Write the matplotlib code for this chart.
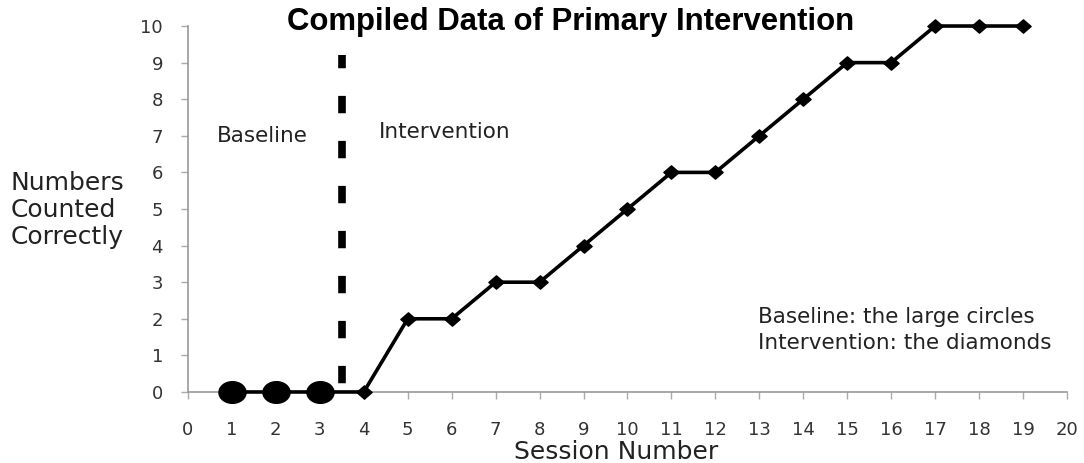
import matplotlib
matplotlib.use("Agg")
import matplotlib.pyplot as plt
from matplotlib.path import Path
from matplotlib.transforms import Affine2D

baseline_sessions = [1, 2, 3]
baseline_values = [0, 0, 0]
intervention_sessions = [4, 5, 6, 7, 8, 9, 10, 11, 12, 13, 14, 15, 16, 17, 18, 19]
intervention_values = [0, 2, 2, 3, 3, 4, 5, 6, 6, 7, 8, 9, 9, 10, 10, 10]
phase_change = 3.5
x_ticks = list(range(0, 21))
y_ticks = list(range(0, 11))

plt.rcParams['font.family'] = ['DejaVu Sans']
plt.rcParams['lines.scale_dashes'] = False

fig = plt.figure(figsize=(10.84, 4.63), dpi=100)
ax = fig.add_axes([0.1734, 0.1534, 0.8109, 0.7904])

# horizontally stretched markers (the reference image is stretched)
ellipse = Path.unit_circle().transformed(Affine2D().scale(1.25, 1.0))
diamond = Path([(0, 1), (1.15, 0), (0, -1), (-1.15, 0), (0, 1)],
               [Path.MOVETO, Path.LINETO, Path.LINETO, Path.LINETO, Path.CLOSEPOLY])

all_x = baseline_sessions + intervention_sessions
all_y = baseline_values + intervention_values
ax.plot(all_x, all_y, color='black', linewidth=2.6, zorder=3, clip_on=False)
ax.plot(baseline_sessions, baseline_values, linestyle='none', marker=ellipse, color='black',
        markersize=19.5, zorder=4, clip_on=False)
ax.plot(intervention_sessions, intervention_values, linestyle='none', marker=diamond, color='black',
        markersize=11, zorder=4, clip_on=False)

ax.vlines(phase_change, 0, 9.2, color='black', linewidth=5.5,
          linestyles=[(26.1, (12.5, 19.9))], capstyle='butt', zorder=2)

ax.set_xlim(0, 20)
ax.set_ylim(0, 10)
ax.set_xticks(x_ticks)
ax.set_yticks(y_ticks)
ax.tick_params(axis='both', labelsize=13, colors='#333333', length=5, width=1, color='#aaaaaa', direction='out')
ax.tick_params(axis='y', pad=13)
ax.tick_params(axis='x', pad=16)
for s in ['top', 'right']:
    ax.spines[s].set_visible(False)
for s in ['left', 'bottom']:
    ax.spines[s].set_color('#999999')
    ax.spines[s].set_linewidth(1.2)

ax.set_xlabel('Session Number', fontsize=18, color='#222222', va='center')
ax.xaxis.set_label_coords(9.74 / 20, -60 / 366)
fig.text(0.010, 0.546, 'Numbers\nCounted\nCorrectly', fontsize=18, color='#222222',
         ha='left', va='center', linespacing=1.15)
fig.text(0.526, 0.952, 'Compiled Data of Primary Intervention', fontsize=22.4, fontweight='bold',
         family='Liberation Sans', ha='center', va='center')

ann = dict(color='#222222', va='center', fontsize=15.5)
ax.text(1.7, 7.0, 'Baseline', ha='center', **ann)
ax.text(5.85, 7.1, 'Intervention', ha='center', **ann)
ax.text(12.97, 2.05, 'Baseline: the large circles', ha='left', **ann)
ax.text(12.97, 1.35, 'Intervention: the diamonds', ha='left', **ann)

fig.savefig('out.png', dpi=100)
